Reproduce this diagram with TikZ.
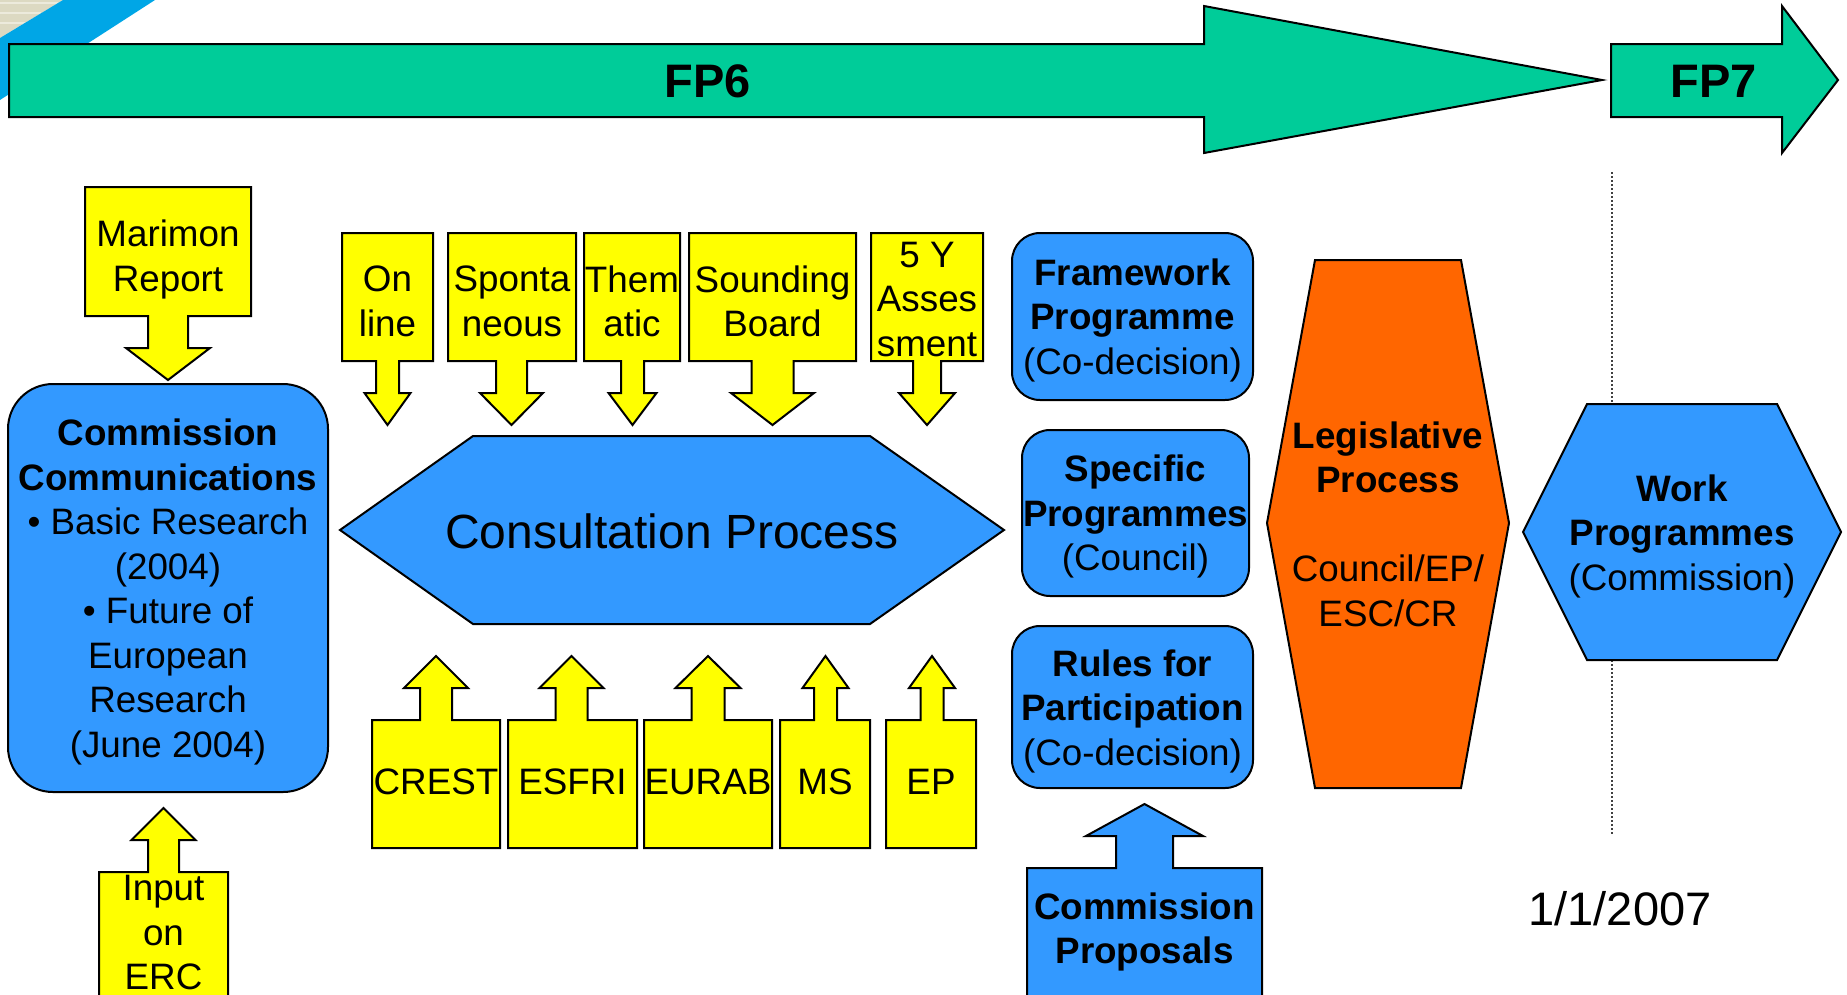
\documentclass[tikz,border=0pt]{standalone}
\usepackage{fontspec}
\setmainfont{Liberation Sans}
\definecolor{fpgreen}{HTML}{00CC99}
\definecolor{procblue}{HTML}{3399FF}
\definecolor{inputyellow}{HTML}{FFFF00}
\definecolor{legorange}{HTML}{FF6600}
\definecolor{bandblue}{HTML}{00A6E6}
\definecolor{bandbeige}{HTML}{DCD9C2}
\definecolor{stripebeige}{HTML}{ECEADC}

\tikzset{
  shapeline/.style={draw=black, line width=2pt, line join=miter},
  yellowbox/.style={shapeline, fill=inputyellow},
  bluebox/.style={shapeline, fill=procblue},
  txt/.style={align=center, inner sep=0pt, font=\fontsize{36.8}{44.5}\selectfont},
  bigtxt/.style={inner sep=0pt, font=\fontsize{47}{56}\selectfont},
}

% box with arrow below: style, left, top, right, bottom, arrow x, stem half, head half
\newcommand{\downcallout}[8][yellowbox]{%
  \draw[#1] (#2,#3) -- (#4,#3) -- (#4,#5) -- ({#6+#7},#5) -- ({#6+#7},{#5+32})
    -- ({#6+#8},{#5+32}) -- (#6,{#5+64}) -- ({#6-#8},{#5+32}) -- ({#6-#7},{#5+32})
    -- ({#6-#7},#5) -- (#2,#5) -- cycle;}
% box with arrow above: same arguments
\newcommand{\upcallout}[8][yellowbox]{%
  \draw[#1] (#2,#5) -- (#2,#3) -- ({#6-#7},#3) -- ({#6-#7},{#3-32})
    -- ({#6-#8},{#3-32}) -- (#6,{#3-64}) -- ({#6+#8},{#3-32}) -- ({#6+#7},{#3-32})
    -- ({#6+#7},#3) -- (#4,#3) -- (#4,#5) -- cycle;}

\begin{document}
\begin{tikzpicture}[x=1pt, y=-1pt]
  \useasboundingbox (0,0) rectangle (1847,994);
  % corner band
  \fill[bandbeige] (0,0) -- (63,0) -- (0,38) -- cycle;
  \foreach \y in {3,13,23}
    \draw[stripebeige, line width=2pt] (0,\y) -- ({63-\y*63/38},\y);
  \fill[bandblue] (63,0) -- (155,0) -- (0,100) -- (0,38) -- cycle;

  % time arrows
  \draw[shapeline, fill=fpgreen] (9,44) -- (1204,44) -- (1204,6) -- (1602,80)
    -- (1204,153) -- (1204,117) -- (9,117) -- cycle;
  \draw[shapeline, fill=fpgreen] (1611,44) -- (1782,44) -- (1782,6) -- (1838,80)
    -- (1782,153) -- (1782,117) -- (1611,117) -- cycle;
  \node[bigtxt, font=\fontsize{47}{56}\selectfont\bfseries, anchor=base] (fp6) at (708,97) {FP6};
  \node[bigtxt, font=\fontsize{47}{56}\selectfont\bfseries, anchor=base] (fp7) at (1714,97) {FP7};

  % start of FP7
  \draw[black!75, line width=1.3pt, dash pattern=on 2pt off 2pt] (1612,172) -- (1612,834);
  \node[bigtxt, anchor=base] (startdate) at (1620,925) {1/1/2007};

  % left column
  \downcallout{85}{187}{251}{316}{168}{20}{42}
  \node[txt] (marimon) at (168,259.5) {Marimon\\Report};
  \draw[bluebox, rounded corners=45pt] (8,384) rectangle (328,792);
  \node[txt] (commcomm) at (168,592)
    {{\bfseries Commission}\\{\bfseries Communications}\\• Basic Research\\(2004)\\
     • Future of\\European\\Research\\(June 2004)};
  \upcallout{99}{872}{228}{1000}{163.5}{15.5}{32}
  \node[txt] (inputerc) at (163.5,933) {Input\\on\\ERC};

  % consultation
  \downcallout{342}{233}{433}{361}{387.5}{11.5}{23}
  \downcallout{448}{233}{576}{361}{511.5}{15.5}{31.5}
  \downcallout{584}{233}{680}{361}{632.5}{11.5}{24}
  \downcallout{689}{233}{856}{361}{772.5}{21}{41.5}
  \downcallout{871}{233}{983}{361}{927}{14}{28}
  \node[txt] (online) at (387.5,301.5) {On\\line};
  \node[txt] (spontaneous) at (512,301.5) {Sponta\\neous};
  \node[txt] (thematic) at (632,301.5) {Them\\atic};
  \node[txt] (sounding) at (772.5,301.5) {Sounding\\Board};
  \node[txt] (fiveyear) at (927,299.5) {5 Y\\Asses\\sment};

  \draw[bluebox] (340,530) -- (473,436) -- (870,436) -- (1004,530) -- (870,624)
    -- (473,624) -- cycle;
  \node[bigtxt, font=\fontsize{48}{57}\selectfont, anchor=base] (consult) at (672,548)
    {Consultation Process};

  \upcallout{372}{720}{500}{848}{436}{16}{32}
  \upcallout{508}{720}{637}{848}{571.5}{16}{32}
  \upcallout{644}{720}{772}{848}{708}{16.5}{32.5}
  \upcallout{780}{720}{870}{848}{825.5}{11.5}{23}
  \upcallout{886}{720}{976}{848}{932}{11.5}{23}
  \node[txt, anchor=base] (crest) at (436,794) {CREST};
  \node[txt, anchor=base] (esfri) at (572.5,794) {ESFRI};
  \node[txt, anchor=base] (eurab) at (708,794) {EURAB};
  \node[txt, anchor=base] (ms) at (825,794) {MS};
  \node[txt, anchor=base] (ep) at (931,794) {EP};

  % programmes
  \draw[bluebox, rounded corners=28pt] (1012,233) rectangle (1253,400);
  \node[txt] (fwprog) at (1132.5,320)
    {{\bfseries Framework}\\{\bfseries Programme}\\(Co-decision)};
  \draw[bluebox, rounded corners=28pt] (1022,430) rectangle (1249,596);
  \node[txt] (specprog) at (1135.5,516.5)
    {{\bfseries Specific}\\{\bfseries Programmes}\\(Council)};
  \draw[bluebox, rounded corners=28pt] (1012,626) rectangle (1253,788);
  \node[txt] (rules) at (1132.5,711)
    {{\bfseries Rules for}\\{\bfseries Participation}\\(Co-decision)};
  \upcallout[bluebox]{1027}{868}{1262}{1000}{1144.5}{28.5}{58.5}
  \node[txt] (proposals) at (1144.5,932)
    {{\bfseries Commission}\\{\bfseries Proposals}};

  % legislative process
  \draw[shapeline, fill=legorange] (1315,260) -- (1461,260) -- (1509,523) -- (1461,788)
    -- (1315,788) -- (1267,523) -- cycle;
  \node[txt] (legis) at (1388,524)
    {{\bfseries Legislative}\\{\bfseries Process}\\[44.5pt]Council/EP/\\ESC/CR};

  % work programmes
  \draw[bluebox] (1523,532) -- (1587,404) -- (1777,404) -- (1841,532) -- (1777,660)
    -- (1587,660) -- cycle;
  \node[txt] (workprog) at (1682,536)
    {{\bfseries Work}\\{\bfseries Programmes}\\(Commission)};
\end{tikzpicture}
\end{document}
